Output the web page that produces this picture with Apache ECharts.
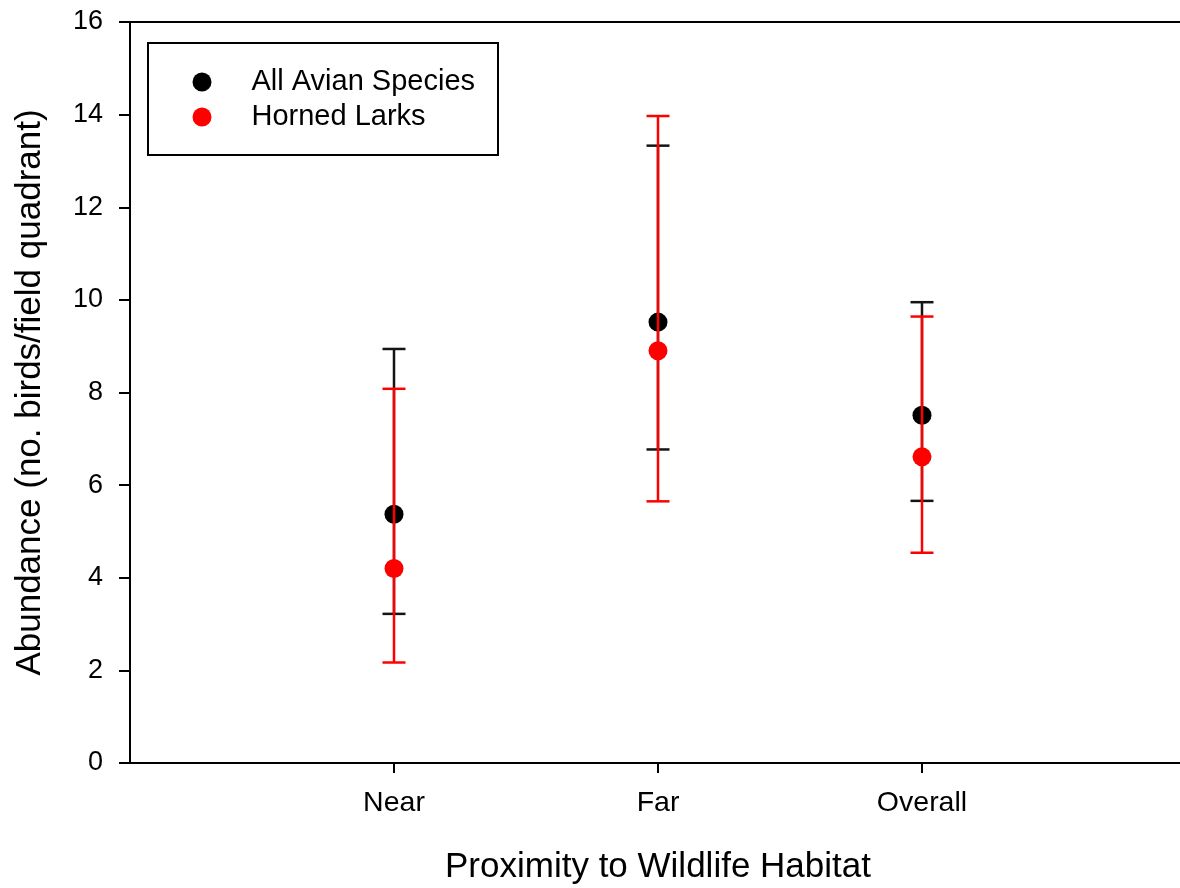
<!DOCTYPE html>
<html>
<head>
<meta charset="utf-8">
<script src="https://cdn.jsdelivr.net/npm/echarts@6/dist/echarts.min.js"></script>
<style>
  html, body { margin: 0; padding: 0; background: #fff; }
  #chart { width: 1180px; height: 888px; }
</style>
</head>
<body>
<div id="chart"></div>
<script>
// Abundance by proximity to wildlife habitat: means with lower / upper bounds
const categories = ['Near', 'Far', 'Overall'];
const seriesNames = ['All Avian Species', 'Horned Larks'];

const allAvianMean  = [5.37, 9.52, 7.51];
const allAvianLower = [3.22, 6.77, 5.66];
const allAvianUpper = [8.94, 13.33, 9.95];

const larksMean  = [4.20, 8.90, 6.61];
const larksLower = [2.17, 5.65, 4.54];
const larksUpper = [8.08, 13.97, 9.64];

const yTicks = [0, 2, 4, 6, 8, 10, 12, 14, 16];

const FONT = 'Liberation Sans, Arial, sans-serif';
const BLACK = '#000000';
const RED = '#ff0000';

// categories sit at x = 1, 2, 3 on a 0..4 value axis
const xPos = categories.map((c, i) => i + 1);

function points(mean) {
  return mean.map((v, i) => [xPos[i], v]);
}
function ranges(lower, upper) {
  return lower.map((v, i) => [xPos[i], v, upper[i]]);
}

function errorBarRenderer(color) {
  return function (params, api) {
    const x = api.value(0);
    const lo = api.coord([x, api.value(1)]);
    const hi = api.coord([x, api.value(2)]);
    const half = 11.5;
    const style = { stroke: color, lineWidth: 2.5 };
    return {
      type: 'group',
      children: [
        { type: 'line', shape: { x1: lo[0], y1: lo[1], x2: hi[0], y2: hi[1] }, style },
        { type: 'line', shape: { x1: hi[0] - half, y1: hi[1], x2: hi[0] + half, y2: hi[1] }, style },
        { type: 'line', shape: { x1: lo[0] - half, y1: lo[1], x2: lo[0] + half, y2: lo[1] }, style }
      ]
    };
  };
}

const chart = echarts.init(document.getElementById('chart'), null, { renderer: 'canvas' });

chart.setOption({
  animation: false,
  backgroundColor: '#ffffff',
  textStyle: { fontFamily: FONT, color: '#000' },
  grid: {
    left: 130, top: 22, right: -6, bottom: 125,
    outerBoundsMode: 'none',
    containLabel: false,
    show: true, borderColor: '#000', borderWidth: 2, backgroundColor: 'transparent'
  },
  legend: {
    orient: 'vertical',
    left: 192.5, top: 67,
    padding: 0,
    itemGap: 5,
    itemWidth: 19, itemHeight: 19,
    icon: 'circle',
    data: seriesNames,
    selectedMode: false,
    textStyle: { fontFamily: FONT, fontSize: 29, color: '#000', lineHeight: 30, padding: [0, 0, 0, 35] }
  },
  graphic: [
    {
      type: 'rect', z: 5,
      shape: { x: 148, y: 43, width: 350, height: 112 },
      style: { fill: 'none', stroke: '#000', lineWidth: 2 }
    }
  ],
  xAxis: {
    type: 'value',
    min: 0, max: 4, interval: 1,
    name: 'Proximity to Wildlife Habitat',
    nameLocation: 'middle',
    nameGap: 87,
    nameTextStyle: { fontFamily: FONT, fontSize: 35, color: '#000' },
    axisLine: { show: true, onZero: false, lineStyle: { color: '#000', width: 2 } },
    axisTick: { show: true, length: 10, lineStyle: { color: '#000', width: 2 }, customValues: xPos },
    axisLabel: {
      fontFamily: FONT, fontSize: 28.5, color: '#000', margin: 26,
      customValues: xPos,
      formatter: v => categories[Math.round(v) - 1] || ''
    },
    splitLine: { show: false }
  },
  yAxis: {
    type: 'value',
    min: 0, max: 16, interval: 2,
    name: 'Abundance (no. birds/field quadrant)',
    nameLocation: 'middle',
    nameGap: 82,
    nameTextStyle: { fontFamily: FONT, fontSize: 35, color: '#000' },
    axisLine: { show: true, onZero: false, lineStyle: { color: '#000', width: 2 } },
    axisTick: { show: true, length: 11, lineStyle: { color: '#000', width: 2 }, customValues: yTicks },
    axisLabel: { fontFamily: FONT, fontSize: 27, color: '#000', margin: 27, customValues: yTicks },
    splitLine: { show: false }
  },
  series: [
    {
      name: seriesNames[0] + ' range',
      type: 'custom',
      z: 1,
      renderItem: errorBarRenderer('#141414'),
      encode: { x: 0, y: [1, 2] },
      data: ranges(allAvianLower, allAvianUpper)
    },
    {
      name: seriesNames[0],
      type: 'scatter',
      z: 2,
      symbol: 'circle',
      symbolSize: 19,
      itemStyle: { color: BLACK, opacity: 1 },
      data: points(allAvianMean)
    },
    {
      name: seriesNames[1] + ' range',
      type: 'custom',
      z: 3,
      renderItem: errorBarRenderer(RED),
      encode: { x: 0, y: [1, 2] },
      data: ranges(larksLower, larksUpper)
    },
    {
      name: seriesNames[1],
      type: 'scatter',
      z: 4,
      symbol: 'circle',
      symbolSize: 19,
      itemStyle: { color: RED, opacity: 1 },
      data: points(larksMean)
    }
  ]
});
</script>
</body>
</html>
